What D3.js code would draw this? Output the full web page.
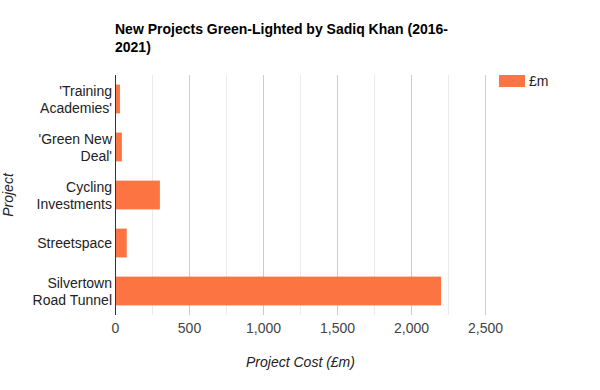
<!DOCTYPE html>
<html>
<head>
<meta charset="utf-8">
<script src="https://cdn.jsdelivr.net/npm/d3@7"></script>
<style>
  body { margin: 0; background: #fff; }
  svg { font-family: "Liberation Sans", Arial, sans-serif; }
</style>
</head>
<body>
<svg id="chart" width="600" height="390"></svg>
<script>
const projects = ["'Training Academies'", "'Green New Deal'", "Cycling Investments", "Streetspace", "Silvertown Road Tunnel"];
const cost = [30, 43, 300, 76, 2200];
const x_ticks = [0, 500, 1000, 1500, 2000, 2500];
const minor_ticks = [250, 750, 1250, 1750, 2250];
const title_lines = ["New Projects Green-Lighted by Sadiq Khan (2016-", "2021)"];
const series_name = "£m";

const barColor = '#fc7442';
const width = 600;
const height = 390;
const margin = {left: 115.5, right: 115, top: 75, bottom: 75};

const svg = d3.select("#chart");

const xScale = d3.scaleLinear().domain([0, 2500]).range([margin.left, margin.left + 370]);
const yScale = d3.scaleBand().domain(projects).range([margin.top, height - margin.bottom])
    .paddingInner(0.4).paddingOuter(0.2);

// title
svg.append('g').selectAll('text')
    .data(title_lines)
    .enter()
    .append('text')
    .attr('x', 115)
    .attr('y', (d, i) => 34 + i * 18)
    .style('font-size', '14px')
    .style('font-weight', 'bold')
    .style('fill', '#000')
    .text(d => d);

// grid lines
svg.append('g').selectAll('line')
    .data(minor_ticks)
    .enter()
    .append('line')
    .attr('x1', d => xScale(d)).attr('x2', d => xScale(d))
    .attr('y1', margin.top).attr('y2', height - margin.bottom)
    .attr('stroke', '#ebebeb');

svg.append('g').selectAll('line')
    .data(x_ticks.slice(1))
    .enter()
    .append('line')
    .attr('x1', d => xScale(d)).attr('x2', d => xScale(d))
    .attr('y1', margin.top).attr('y2', height - margin.bottom)
    .attr('stroke', '#cccccc');

// bars
svg.append('g').selectAll('rect')
    .data(projects)
    .enter()
    .append('rect')
    .attr('x', xScale(0))
    .attr('y', d => yScale(d))
    .attr('width', (d, i) => xScale(cost[i]) - xScale(0))
    .attr('height', yScale.bandwidth())
    .style('fill', barColor);

// zero line
svg.append('line')
    .attr('x1', xScale(0)).attr('x2', xScale(0))
    .attr('y1', margin.top).attr('y2', height - margin.bottom)
    .attr('stroke', '#333');

// x tick labels
svg.append('g').selectAll('text')
    .data(x_ticks)
    .enter()
    .append('text')
    .attr('x', d => xScale(d))
    .attr('y', 333)
    .attr('text-anchor', 'middle')
    .style('font-size', '14px')
    .style('fill', '#444')
    .text(d => d3.format(',')(d));

// y labels, wrapped
const yLabels = svg.append('g').selectAll('text')
    .data(projects)
    .enter()
    .append('text')
    .attr('text-anchor', 'end')
    .style('font-size', '14px')
    .style('fill', '#222');

yLabels.each(function(d) {
    const t = d3.select(this);
    const words = d.split(' ');
    const lines = [];
    let line = [];
    const probe = t.append('tspan');
    words.forEach(w => {
        line.push(w);
        probe.text(line.join(' '));
        if (probe.node().getComputedTextLength() > 92 && line.length > 1) {
            line.pop();
            lines.push(line.join(' '));
            line = [w];
        }
    });
    lines.push(line.join(' '));
    probe.remove();
    const cy = yScale(d) + yScale.bandwidth() / 2;
    const lh = 17;
    lines.forEach((l, i) => {
        t.append('tspan')
            .attr('x', 112)
            .attr('y', cy + 5 + (i - (lines.length - 1) / 2) * lh)
            .text(l);
    });
});

// axis titles
svg.append('text')
    .attr('x', xScale(1250))
    .attr('y', 367)
    .attr('text-anchor', 'middle')
    .style('font-size', '14px')
    .style('font-style', 'italic')
    .style('fill', '#222')
    .text('Project Cost (£m)');

svg.append('text')
    .attr('transform', `translate(13, ${(margin.top + height - margin.bottom) / 2}) rotate(-90)`)
    .attr('text-anchor', 'middle')
    .style('font-size', '14px')
    .style('font-style', 'italic')
    .style('fill', '#222')
    .text('Project');

// legend
const legend = svg.append('g').attr('transform', 'translate(499, 75)');
legend.append('rect')
    .attr('width', 26).attr('height', 12)
    .style('fill', barColor);
legend.append('text')
    .attr('x', 30).attr('y', 11)
    .style('font-size', '14px')
    .style('fill', '#222')
    .text(series_name);
</script>
</body>
</html>
